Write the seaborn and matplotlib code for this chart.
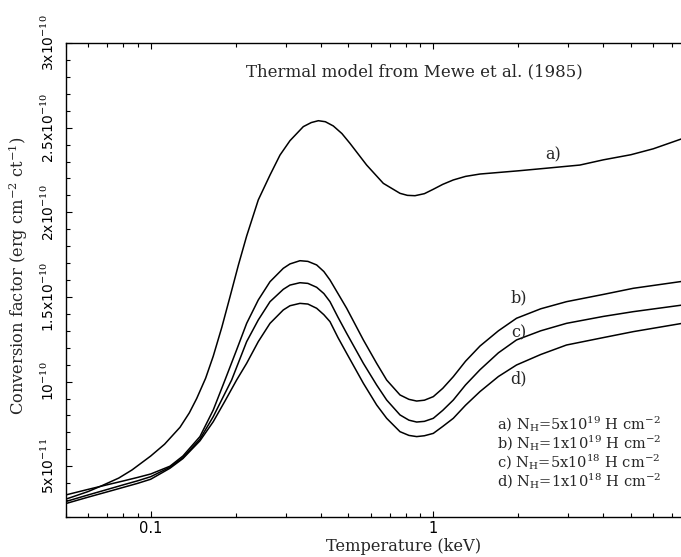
import numpy as np
import pandas as pd
import matplotlib
matplotlib.use("Agg")
import matplotlib.pyplot as plt
from matplotlib.ticker import FixedLocator, FixedFormatter, MultipleLocator, LogLocator, NullFormatter
import seaborn as sns

# temperature (keV) vs conversion factor, in units of 1e-11 erg cm^-2 ct^-1
temp_a = [0.05, 0.06, 0.0672, 0.0771, 0.0859, 0.1, 0.112, 0.127, 0.137, 0.1455, 0.1565, 0.1665,
          0.1785, 0.1908, 0.2045, 0.2186, 0.2403, 0.2644, 0.2868, 0.3111, 0.3468, 0.37, 0.392,
          0.415, 0.4428, 0.475, 0.5073, 0.581, 0.6655, 0.7624, 0.81, 0.8615, 0.93, 1.0, 1.08,
          1.177, 1.3, 1.463, 2.0, 2.5, 3.3, 4.0, 5.0, 6.0, 7.6]
conv_a = [3.05, 3.5, 3.85, 4.3, 4.78, 5.6, 6.3, 7.3, 8.15, 9.0, 10.2, 11.5,
          13.2, 15.0, 16.9, 18.6, 20.73, 22.2, 23.38, 24.23, 25.06, 25.3, 25.41,
          25.35, 25.1, 24.65, 24.07, 22.79, 21.71, 21.12, 21.0, 20.98, 21.1, 21.36, 21.65,
          21.91, 22.12, 22.26, 22.45, 22.6, 22.79, 23.1, 23.4, 23.75, 24.35]

temp_b = [0.05, 0.06, 0.07, 0.08, 0.09, 0.1, 0.117, 0.13, 0.1494, 0.1665, 0.1832, 0.2014, 0.2186,
          0.2403, 0.2644, 0.2946, 0.3111, 0.3375, 0.36, 0.3866, 0.41, 0.431, 0.46, 0.4937, 0.5656,
          0.6302, 0.684, 0.7624, 0.82, 0.8733, 0.93, 1.0, 1.08, 1.177, 1.3, 1.463, 1.7, 1.97, 2.4,
          2.96, 4.0, 5.1, 7.6]
conv_b = [3.30, 3.63, 3.90, 4.13, 4.34, 4.54, 5.0, 5.6, 6.75, 8.32, 10.09, 11.87, 13.44,
          14.82, 15.90, 16.69, 16.95, 17.14, 17.1, 16.89, 16.5, 16.00, 15.2, 14.33, 12.46,
          11.08, 10.09, 9.21, 8.95, 8.85, 8.9, 9.11, 9.6, 10.29, 11.2, 12.1, 13.0, 13.74, 14.3,
          14.72, 15.15, 15.51, 15.92]

temp_c = [0.05, 0.06, 0.07, 0.08, 0.09, 0.1, 0.117, 0.13, 0.1494, 0.1665, 0.1934, 0.2186, 0.2403,
          0.2644, 0.2946, 0.3111, 0.3375, 0.36, 0.3866, 0.41, 0.431, 0.46, 0.4937, 0.5656, 0.6302,
          0.684, 0.7624, 0.82, 0.8733, 0.93, 1.0, 1.08, 1.177, 1.3, 1.463, 1.7, 1.97, 2.4, 2.96,
          4.0, 5.1, 7.6]
conv_c = [2.91, 3.30, 3.62, 3.90, 4.14, 4.38, 4.94, 5.5, 6.6, 7.93, 10.09, 12.36, 13.64,
          14.72, 15.45, 15.7, 15.84, 15.8, 15.57, 15.2, 14.72, 13.8, 12.85, 11.08, 9.80,
          8.91, 8.03, 7.72, 7.61, 7.65, 7.83, 8.3, 8.91, 9.8, 10.7, 11.7, 12.46, 13.0, 13.44,
          13.85, 14.13, 14.52]

temp_d = [0.05, 0.06, 0.07, 0.08, 0.09, 0.1, 0.117, 0.13, 0.1494, 0.1665, 0.1832, 0.2014, 0.2186,
          0.2403, 0.2644, 0.2946, 0.3111, 0.3375, 0.36, 0.3866, 0.41, 0.431, 0.46, 0.4937, 0.5656,
          0.6302, 0.684, 0.7624, 0.82, 0.8733, 0.93, 1.0, 1.08, 1.177, 1.3, 1.463, 1.7, 1.97, 2.4,
          2.96, 4.0, 5.1, 7.6]
conv_d = [2.79, 3.17, 3.48, 3.75, 3.99, 4.23, 4.88, 5.45, 6.5, 7.63, 8.85, 10.09, 11.08,
          12.36, 13.44, 14.23, 14.48, 14.62, 14.58, 14.33, 13.95, 13.54, 12.6, 11.67, 9.90,
          8.62, 7.83, 7.04, 6.82, 6.75, 6.8, 6.94, 7.35, 7.83, 8.6, 9.41, 10.3, 10.98, 11.6,
          12.16, 12.6, 12.95, 13.44]

curve_names = ["a)", "b)", "c)", "d)"]
nh_labels = [r"a) N$_\mathrm{H}$=5x10$^{19}$ H cm$^{-2}$",
             r"b) N$_\mathrm{H}$=1x10$^{19}$ H cm$^{-2}$",
             r"c) N$_\mathrm{H}$=5x10$^{18}$ H cm$^{-2}$",
             r"d) N$_\mathrm{H}$=1x10$^{18}$ H cm$^{-2}$"]
ytick_vals = [5, 10, 15, 20, 25, 30]
ytick_labels = [r"5x10$^{-11}$", r"10$^{-10}$", r"1.5x10$^{-10}$",
                r"2x10$^{-10}$", r"2.5x10$^{-10}$", r"3x10$^{-10}$"]

frames = []
for name, t, c in zip(curve_names, [temp_a, temp_b, temp_c, temp_d],
                      [conv_a, conv_b, conv_c, conv_d]):
    frames.append(pd.DataFrame({"temp": t, "conv": c, "model": name}))
df = pd.concat(frames, ignore_index=True)

sns.set_style("ticks")
plt.rcParams["font.family"] = ["DejaVu Serif"]
plt.rcParams["mathtext.fontset"] = "dejavuserif"

fig = plt.figure(figsize=(6.81, 5.57), dpi=100)
# the frame runs off the right edge of the picture, like the scanned original
ax = fig.add_axes([0.0963, 0.0718, 0.955, 0.851])

sns.lineplot(data=df, x="temp", y="conv", hue="model", palette=["black"] * 4,
             estimator=None, sort=False, legend=False, linewidth=1.1, ax=ax)

ax.set_xscale("log")
ax.set_xlim(0.05, 10)
ax.set_ylim(2, 30)

ax.xaxis.set_major_locator(FixedLocator([0.1, 1]))
ax.xaxis.set_major_formatter(FixedFormatter(["0.1", "1"]))
ax.xaxis.set_minor_locator(LogLocator(base=10, subs=np.arange(2, 10)))
ax.xaxis.set_minor_formatter(NullFormatter())
ax.yaxis.set_major_locator(FixedLocator(ytick_vals))
ax.yaxis.set_major_formatter(FixedFormatter(ytick_labels))
ax.yaxis.set_minor_locator(MultipleLocator(1))

ax.tick_params(which="both", direction="in", top=True, right=True, width=0.8, colors="black")
ax.tick_params(which="major", length=4.5)
ax.tick_params(which="minor", length=2.6)
ax.tick_params(axis="x", labelsize=10.5, pad=3)
ax.tick_params(axis="y", labelsize=10, pad=6)
for lab in ax.get_xticklabels():
    lab.set_family("DejaVu Sans")
for lab in ax.get_yticklabels():
    lab.set_family("DejaVu Sans")
    lab.set_rotation(90)
    lab.set_va("center")
for sp in ax.spines.values():
    sp.set_color("black")
    sp.set_linewidth(1.0)

ax.set_xlabel("Temperature (keV)", fontsize=11.7)
ax.set_ylabel(r"Conversion factor (erg cm$^{-2}$ ct$^{-1}$)", fontsize=11.7)
ax.xaxis.label.set_va("center")
ax.yaxis.label.set_va("center")
ax.xaxis.set_label_coords(0.52, -0.063)
ax.yaxis.set_label_coords(-0.073, 0.51)

ax.text(0.537, 0.939, "Thermal model from Mewe et al. (1985)", transform=ax.transAxes,
        ha="center", va="center", fontsize=12)

# curve tags
ax.text(2.65, 23.38, "a)", ha="center", va="center", fontsize=11.5)
ax.text(2.0, 14.92, "b)", ha="center", va="center", fontsize=11.5)
ax.text(2.0, 12.89, "c)", ha="center", va="center", fontsize=11.5)
ax.text(2.0, 10.14, "d)", ha="center", va="center", fontsize=11.5)

for i, lab in enumerate(nh_labels):
    ax.text(0.663, 0.195 - i * 0.04, lab, transform=ax.transAxes,
            ha="left", va="center", fontsize=10.5)

fig.savefig("out.png", dpi=100)
